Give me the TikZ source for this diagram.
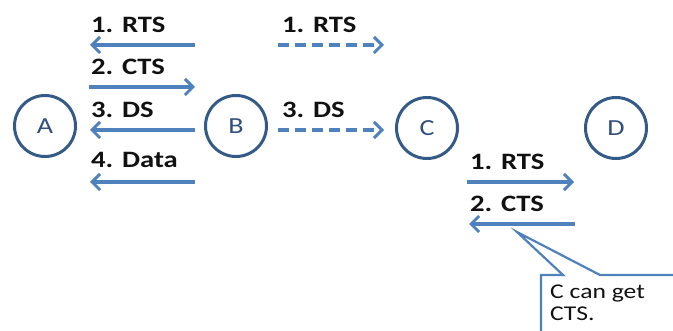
\documentclass[tikz,border=0pt]{standalone}
\usepackage{fontspec}
\usepackage{graphicx}
\setmainfont{Carlito}
\usetikzlibrary{arrows.meta}
\definecolor{linkblue}{HTML}{4F81BD}
\definecolor{ringblue}{HTML}{345A88}
\definecolor{letterblue}{HTML}{2F4F7F}
\definecolor{labelgray}{HTML}{111111}
% slightly widened lettering
\newcommand\widetext[1]{\scalebox{1.22}[1]{#1}}
\begin{document}
\begin{tikzpicture}[x=1pt,y=-1pt,
  station/.style={circle,draw=ringblue,line width=3pt,minimum size=61pt,inner sep=0pt,
    text=letterblue,font=\fontsize{23}{24}\selectfont},
  msg/.style={line width=3.4pt,draw=linkblue,-{Straight Barb[length=8pt,width=16pt,line width=3pt]}},
  overheard/.style={msg,dash pattern=on 11pt off 6pt},
  lbl/.style={anchor=base west,inner sep=0pt,text=labelgray,font=\fontsize{23.5}{24}\selectfont\bfseries},
  note/.style={draw=linkblue,line width=2.2pt,fill=white}]
\useasboundingbox (0,0) rectangle (673,331);

% stations
\node[station] (A) at (45,126) {\widetext{A}};
\node[station] (B) at (236,126) {\widetext{B}};
\node[station] (C) at (427,128) {\widetext{C}};
\node[station] (D) at (616,128) {\widetext{D}};

% A <-> B exchange
\coordinate (ab1s) at (195,45);  \coordinate (ab1e) at (90,45);
\coordinate (ab2s) at (89,87);   \coordinate (ab2e) at (195,87);
\coordinate (ab3s) at (195,130); \coordinate (ab3e) at (90,130);
\coordinate (ab4s) at (195,182); \coordinate (ab4e) at (90,182);
\draw[msg] (ab1s) -- (ab1e);
\draw[msg] (ab2s) -- (ab2e);
\draw[msg] (ab3s) -- (ab3e);
\draw[msg] (ab4s) -- (ab4e);
\node[lbl] (l1) at (91,33) {\widetext{1. RTS}};
\node[lbl] (l2) at (91,75) {\widetext{2. CTS}};
\node[lbl] (l3) at (91,118) {\widetext{3. DS}};
\node[lbl] (l4) at (91,168) {\widetext{4. Data}};

% frames overheard towards C
\coordinate (bc1s) at (278,45);  \coordinate (bc1e) at (384,45);
\coordinate (bc3s) at (278,130); \coordinate (bc3e) at (384,130);
\draw[overheard] (bc1s) -- (bc1e);
\draw[overheard] (bc3s) -- (bc3e);
\node[lbl] (m1) at (282,33) {\widetext{1. RTS}};
\node[lbl] (m3) at (282,118) {\widetext{3. DS}};

% C <-> D exchange
\coordinate (cd1s) at (467,182); \coordinate (cd1e) at (574,182);
\coordinate (cd2s) at (575,224); \coordinate (cd2e) at (469,224);
\draw[msg] (cd1s) -- (cd1e);
\draw[msg] (cd2s) -- (cd2e);
\node[lbl] (n1) at (470,170) {\widetext{1. RTS}};
\node[lbl] (n2) at (470,212) {\widetext{2. CTS}};

% callout
\coordinate (tip) at (517,232);
\draw[note] (541,340) -- (541,275) -- (563,275) -- (tip) -- (600,275) -- (680,275) -- (680,340) -- cycle;
\node[anchor=north west,inner sep=0pt,align=left,text=labelgray,
  font=\fontsize{21}{22}\selectfont] (cap) at (550,285) {\widetext{C can get}\\\widetext{CTS.}};
\end{tikzpicture}
\end{document}
